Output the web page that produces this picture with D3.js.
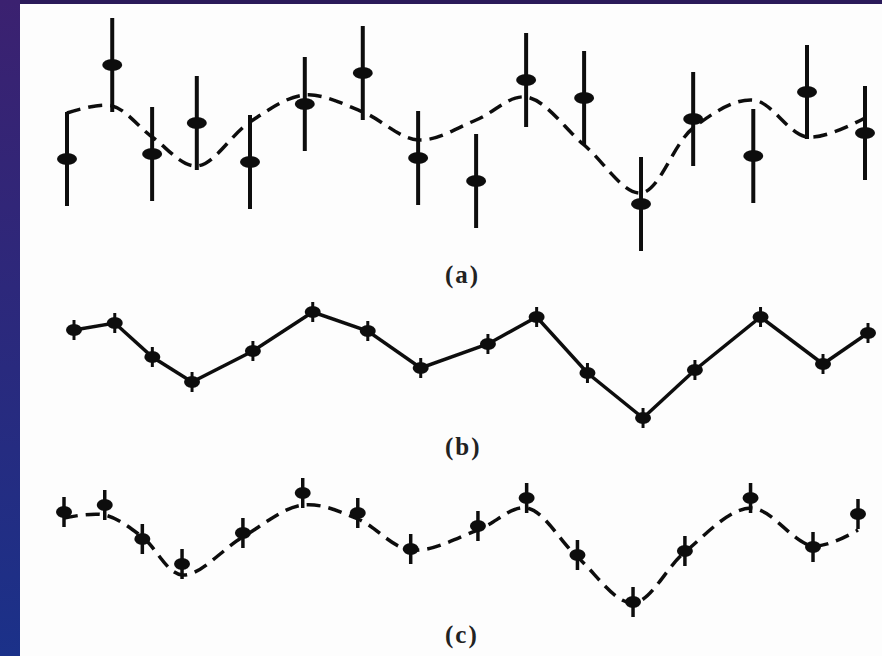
<!DOCTYPE html>
<html>
<head>
<meta charset="utf-8">
<script src="https://cdn.jsdelivr.net/npm/d3@7"></script>
<style>
  body { margin: 0; background: #2b1b5a; }
</style>
</head>
<body>
<div id="chart"></div>
<script>
// sample positions (panel a is slightly distorted in the scan)
var tA = [0, 0.85, 1.6, 2.44, 3.44, 4.47, 5.56, 6.6, 7.69, 8.63, 9.72, 10.79, 11.77, 12.9, 13.91, 15];
var tBC = [0, 0.77, 1.48, 2.23, 3.38, 4.51, 5.55, 6.55, 7.82, 8.74, 9.7, 10.75, 11.73, 12.97, 14.15, 15];

// (a) noisy measurements with large errors, and the true curve
var aPoints = [-1.2, 3.5, -0.95, 0.6, -1.35, 1.55, 3.1, -1.15, -2.3, 2.75, 1.85, -3.45, 0.8, -1.05, 2.15, 0.1];
var aCurve = [1.1, 1.45, -0.1, -1.55, 0.65, 2.0, 1.15, -0.25, 0.75, 1.9, -0.5, -2.9, 0.35, 1.75, -0.1, 0.85];
var aErr = 2.35;

// (b) fitted values joined by straight lines
var bPoints = [1.5, 1.85, 0.15, -1.1, 0.45, 2.4, 1.45, -0.4, 0.8, 2.15, -0.65, -2.9, -0.5, 2.15, -0.2, 1.35];
var bErr = 0.5;

// (c) fitted values with the true curve
var cPoints = [1.4, 1.75, 0.05, -1.2, 0.35, 2.35, 1.35, -0.45, 0.7, 2.1, -0.75, -3.1, -0.55, 2.1, -0.35, 1.3];
var cCurve = [1.1, 1.25, 0.15, -1.75, 0.15, 1.75, 1.05, -0.5, 0.5, 1.6, -0.85, -3.15, -0.6, 1.6, -0.3, 0.5];
var cErr = 0.75;

var panelLabels = ["(a)", "(b)", "(c)"];

var svgWidth = 882;
var svgHeight = 656;

var svg = d3.select("#chart")
  .append("svg")
    .attr("width", svgWidth)
    .attr("height", svgHeight)
    .style("display", "block");

var defs = svg.append("defs");
var grad = defs.append("linearGradient")
  .attr("id", "side")
  .attr("x1", 0).attr("y1", 0).attr("x2", 0).attr("y2", 1);
grad.append("stop").attr("offset", "0%").attr("stop-color", "#3b2170");
grad.append("stop").attr("offset", "100%").attr("stop-color", "#1b3189");
defs.append("filter").attr("id", "soft")
  .append("feGaussianBlur").attr("stdDeviation", 0.7);

// slide background + white scan area
svg.append("rect").attr("width", svgWidth).attr("height", svgHeight).attr("fill", "#2b1b5a");
svg.append("rect").attr("width", 20).attr("height", svgHeight).attr("fill", "url(#side)");
svg.append("rect")
  .attr("x", 20).attr("y", 4)
  .attr("width", svgWidth - 20).attr("height", svgHeight - 4)
  .attr("fill", "#fdfdfd");

var ink = "#111";

function drawPanel(opts) {
  var x = d3.scaleLinear().domain([0, 15]).range(opts.xRange);
  var y = d3.scaleLinear().domain([-5, 5]).range([opts.center + 100, opts.center - 100]);
  var g = svg.append("g").attr("filter", "url(#soft)");
  var t = opts.t;

  if (opts.curve) {
    var line = d3.line()
      .x((d, i) => x(t[i]))
      .y(d => y(d))
      .curve(opts.curveType);
    g.append("path")
      .datum(opts.curve)
      .attr("d", line)
      .attr("fill", "none")
      .attr("stroke", ink)
      .attr("stroke-width", 3.5)
      .attr("stroke-dasharray", opts.dash || null);
  }

  g.selectAll(".err")
    .data(opts.points)
    .enter()
    .append("line")
      .attr("x1", (d, i) => x(t[i]))
      .attr("x2", (d, i) => x(t[i]))
      .attr("y1", d => y(d - opts.err))
      .attr("y2", d => y(d + opts.err))
      .attr("stroke", ink)
      .attr("stroke-width", opts.barWidth);

  g.selectAll(".pt")
    .data(opts.points)
    .enter()
    .append("ellipse")
      .attr("cx", (d, i) => x(t[i]))
      .attr("cy", d => y(d))
      .attr("rx", opts.rx)
      .attr("ry", opts.ry)
      .attr("fill", ink);
}

drawPanel({ t: tA, xRange: [67, 865], center: 135, points: aPoints, err: aErr,
  curve: aCurve, curveType: d3.curveCatmullRom.alpha(0.5), dash: "14,8",
  barWidth: 4, rx: 10, ry: 6 });

drawPanel({ t: tBC, xRange: [74, 868], center: 360, points: bPoints, err: bErr,
  curve: bPoints, curveType: d3.curveLinear,
  barWidth: 3, rx: 8, ry: 6 });

drawPanel({ t: tBC, xRange: [64, 858], center: 540, points: cPoints, err: cErr,
  curve: cCurve, curveType: d3.curveCatmullRom.alpha(0.5), dash: "14,8",
  barWidth: 3.5, rx: 8, ry: 6 });

svg.selectAll(".lbl")
  .data(panelLabels)
  .enter()
  .append("text")
    .attr("x", 445)
    .attr("y", (d, i) => [283, 455, 643][i])
    .attr("font-family", "Liberation Serif, DejaVu Serif, serif")
    .attr("font-weight", "bold")
    .attr("font-size", "25px")
    .attr("letter-spacing", "2px")
    .attr("fill", "#222")
    .text(d => d);
</script>
</body>
</html>
